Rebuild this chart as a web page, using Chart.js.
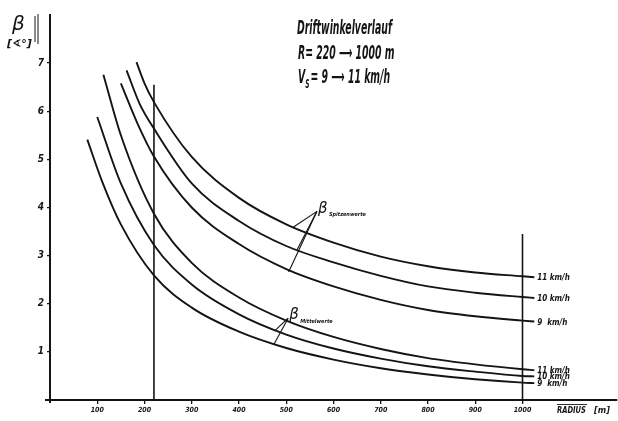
<!DOCTYPE html>
<html>
<head>
<meta charset="utf-8">
<script src="https://cdn.jsdelivr.net/npm/chart.js@4.4.1/dist/chart.umd.min.js"></script>
<style>
  html, body { margin: 0; padding: 0; background: #fff; }
  canvas { display: block; }
</style>
</head>
<body>
<canvas id="myChart" width="618" height="421"></canvas>
<script>
// Driftwinkel beta [deg] over radius R [m]
const radiusTicks = [100, 200, 300, 400, 500, 600, 700, 800, 900, 1000];
const betaTicks = [1, 2, 3, 4, 5, 6, 7];

// Spitzenwerte (peak values)
const radiusSpitze11 = [183, 200, 220, 300, 400, 500, 600, 700, 800, 900, 1000, 1025];
const betaSpitze11 = [7.02, 6.58, 6.19, 5.05, 4.2, 3.65, 3.27, 2.98, 2.78, 2.65, 2.57, 2.55];
const radiusSpitze10 = [162, 190, 220, 300, 400, 500, 600, 700, 800, 900, 1000, 1025];
const betaSpitze10 = [6.85, 6.15, 5.64, 4.5, 3.72, 3.2, 2.86, 2.58, 2.36, 2.23, 2.14, 2.12];
const radiusSpitze9 = [150, 185, 220, 300, 400, 500, 600, 700, 800, 900, 1000, 1025];
const betaSpitze9 = [6.58, 5.75, 5.06, 4.0, 3.24, 2.72, 2.36, 2.08, 1.87, 1.74, 1.65, 1.63];

// Mittelwerte (mean values)
const radiusMittel11 = [113, 150, 220, 300, 400, 500, 600, 700, 800, 900, 1000, 1025];
const betaMittel11 = [6.76, 5.5, 3.87, 2.85, 2.13, 1.65, 1.31, 1.06, 0.87, 0.74, 0.64, 0.62];
const radiusMittel10 = [100, 150, 220, 300, 400, 500, 600, 700, 800, 900, 1000, 1025];
const betaMittel10 = [5.88, 4.5, 3.22, 2.4, 1.78, 1.36, 1.07, 0.86, 0.7, 0.59, 0.5, 0.49];
const radiusMittel9 = [79, 110, 150, 220, 300, 400, 500, 600, 700, 800, 900, 1000, 1025];
const betaMittel9 = [5.41, 4.55, 3.65, 2.59, 1.92, 1.42, 1.08, 0.84, 0.66, 0.53, 0.43, 0.36, 0.35];

const speedLabels = ['11 km/h', '10 km/h', '9  km/h', '11 km/h', '10 km/h', '9  km/h'];

// vertical limit lines R = 220 and R = 1000
const limitRadius = [220, 1000];
const limitTop = [6.55, 3.45];

// leader lines from the beta labels to the curves
const spitzeAnchor = [565, 3.92];
const spitzeTargetR = [513, 523, 505];
const spitzeTargetB = [3.58, 3.12, 2.66];
const mittelAnchor = [504, 1.7];
const mittelTargetR = [476, 474];
const mittelTargetB = [1.44, 1.16];

const INK = '#141414';
const tickFont = { family: '"DejaVu Sans Condensed", "Liberation Sans Narrow", "DejaVu Sans", sans-serif', style: 'italic', weight: 'bold' };
const titleFamily = '"Liberation Sans Narrow", "DejaVu Sans Condensed", "Liberation Sans", sans-serif';

function pairs(xs, ys) {
    return xs.map((x, i) => ({ x: x, y: ys[i] }));
}

function curve(xs, ys) {
    return {
        data: pairs(xs, ys),
        borderColor: INK,
        borderWidth: 1.9,
        pointRadius: 0,
        cubicInterpolationMode: 'monotone',
        fill: false
    };
}

function straight(points, width) {
    return {
        data: points,
        borderColor: INK,
        borderWidth: width,
        pointRadius: 0,
        tension: 0,
        fill: false
    };
}

const curves = [
    curve(radiusSpitze11, betaSpitze11),
    curve(radiusSpitze10, betaSpitze10),
    curve(radiusSpitze9, betaSpitze9),
    curve(radiusMittel11, betaMittel11),
    curve(radiusMittel10, betaMittel10),
    curve(radiusMittel9, betaMittel9)
];

const limits = limitRadius.map((r, i) => straight([{ x: r, y: 0 }, { x: r, y: limitTop[i] }], 1.6));

const leaders = [
    ...spitzeTargetR.map((r, i) => straight([{ x: spitzeAnchor[0], y: spitzeAnchor[1] }, { x: r, y: spitzeTargetB[i] }], 1.1)),
    ...mittelTargetR.map((r, i) => straight([{ x: mittelAnchor[0], y: mittelAnchor[1] }, { x: r, y: mittelTargetB[i] }], 1.1))
];

const textPlugin = {
    id: 'texts',
    afterDraw(chart) {
        const ctx = chart.ctx;
        const xs = chart.scales.x;
        const ys = chart.scales.y;
        ctx.save();
        ctx.fillStyle = INK;
        ctx.strokeStyle = INK;
        ctx.textBaseline = 'alphabetic';
        ctx.textAlign = 'left';

        // title block, squeezed horizontally as one piece
        ctx.save();
        ctx.font = 'italic bold 19px ' + titleFamily;
        const squeeze = 95 / ctx.measureText('Driftwinkelverlauf').width;
        ctx.translate(297, 0);
        ctx.scale(squeeze, 1);
        ctx.fillText('Driftwinkelverlauf', 0, 34);
        ctx.fillText('R= 220 \u27F6 1000 m', 1 / squeeze, 59);
        ctx.fillText('V', 1 / squeeze, 83);
        let cx = 1 / squeeze + ctx.measureText('V').width;
        ctx.font = 'italic bold 12px ' + titleFamily;
        ctx.fillText('S', cx, 88);
        cx += ctx.measureText('S').width + 2;
        ctx.font = 'italic bold 19px ' + titleFamily;
        ctx.fillText('= 9 \u27F6 11 km/h', cx, 83);
        ctx.restore();

        // y axis title
        ctx.font = 'italic 20px "DejaVu Sans", sans-serif';
        ctx.fillText('\u03B2', 12, 30);
        ctx.font = 'italic bold 11px "DejaVu Sans", sans-serif';
        ctx.fillText('[\u2222\u00B0]', 7, 47, 26);
        ctx.lineWidth = 1;
        ctx.beginPath();
        ctx.moveTo(35, 16); ctx.lineTo(35, 42);
        ctx.moveTo(38, 14); ctx.lineTo(38, 44);
        ctx.stroke();

        // x axis title with overline
        ctx.font = 'italic bold 8px "DejaVu Sans Condensed", "Liberation Sans Narrow", sans-serif';
        ctx.fillText('RADIUS', 557, 413, 29);
        ctx.font = 'italic bold 9px "DejaVu Sans Condensed", "Liberation Sans Narrow", sans-serif';
        ctx.fillText('[m]', 594, 413);
        ctx.lineWidth = 0.9;
        ctx.beginPath();
        ctx.moveTo(557, 404.5); ctx.lineTo(587, 404.5);
        ctx.stroke();

        // speed labels at the right end of each curve
        const ends = [betaSpitze11, betaSpitze10, betaSpitze9, betaMittel11, betaMittel10, betaMittel9];
        const endR = radiusSpitze11[radiusSpitze11.length - 1];
        ctx.font = 'italic bold 8px "DejaVu Sans Condensed", "Liberation Sans Narrow", sans-serif';
        ctx.textBaseline = 'middle';
        ends.forEach((b, i) => {
            const y = ys.getPixelForValue(b[b.length - 1]);
            ctx.fillText(speedLabels[i], xs.getPixelForValue(endR) + 3, y + 1, 36);
        });

        // beta annotations
        ctx.textBaseline = 'alphabetic';
        const sx = xs.getPixelForValue(spitzeAnchor[0]);
        const sy = ys.getPixelForValue(spitzeAnchor[1]);
        ctx.font = 'italic 15px "DejaVu Sans", sans-serif';
        ctx.fillText('\u03B2', sx + 1, sy + 2);
        ctx.font = 'italic bold 5.5px "DejaVu Sans Condensed", "Liberation Sans Narrow", sans-serif';
        ctx.fillText('Spitzenwerte', sx + 12, sy + 5, 56);

        const mx = xs.getPixelForValue(mittelAnchor[0]);
        const my = ys.getPixelForValue(mittelAnchor[1]);
        ctx.font = 'italic 15px "DejaVu Sans", sans-serif';
        ctx.fillText('\u03B2', mx + 1, my + 1);
        ctx.font = 'italic bold 5.5px "DejaVu Sans Condensed", "Liberation Sans Narrow", sans-serif';
        ctx.fillText('Mittelwerte', mx + 12, my + 5, 52);

        // small axis overshoots at the origin
        ctx.lineWidth = 2;
        ctx.beginPath();
        ctx.moveTo(xs.left - 5, ys.bottom); ctx.lineTo(xs.left, ys.bottom);
        ctx.moveTo(xs.left, ys.bottom); ctx.lineTo(xs.left, ys.bottom + 3);
        ctx.stroke();
        ctx.restore();
    }
};

function makeGraphic() {
    const canvasContext = document.getElementById('myChart').getContext('2d');
    const config = {
        type: 'line',
        data: { datasets: [...curves, ...limits, ...leaders] },
        options: {
            responsive: false,
            devicePixelRatio: 1,
            animation: false,
            layout: { padding: { top: 15, right: 1, left: 0, bottom: 0 } },
            plugins: { legend: { display: false }, tooltip: { enabled: false } },
            scales: {
                x: {
                    type: 'linear',
                    min: 0,
                    max: 1200,
                    afterBuildTicks: axis => { axis.ticks = radiusTicks.map(v => ({ value: v })); },
                    afterFit: axis => { axis.height = 21; },
                    border: { color: INK, width: 2 },
                    grid: { drawOnChartArea: false, drawTicks: true, tickLength: 4, color: INK, lineWidth: 1.3 },
                    ticks: { color: INK, font: { ...tickFont, size: 7 }, padding: 2, maxRotation: 0, autoSkip: false, callback: v => String(v) }
                },
                y: {
                    type: 'linear',
                    min: 0,
                    max: 8,
                    afterBuildTicks: axis => { axis.ticks = betaTicks.map(v => ({ value: v })); },
                    afterFit: axis => { axis.width = 50; },
                    border: { color: INK, width: 2 },
                    grid: { drawOnChartArea: false, drawTicks: true, tickLength: 3, color: INK, lineWidth: 1.3 },
                    ticks: { color: INK, font: { ...tickFont, size: 10 }, padding: 3, autoSkip: false, callback: v => String(v) }
                }
            }
        },
        plugins: [textPlugin]
    };
    new Chart(canvasContext, config);
}
makeGraphic();
</script>
</body>
</html>
